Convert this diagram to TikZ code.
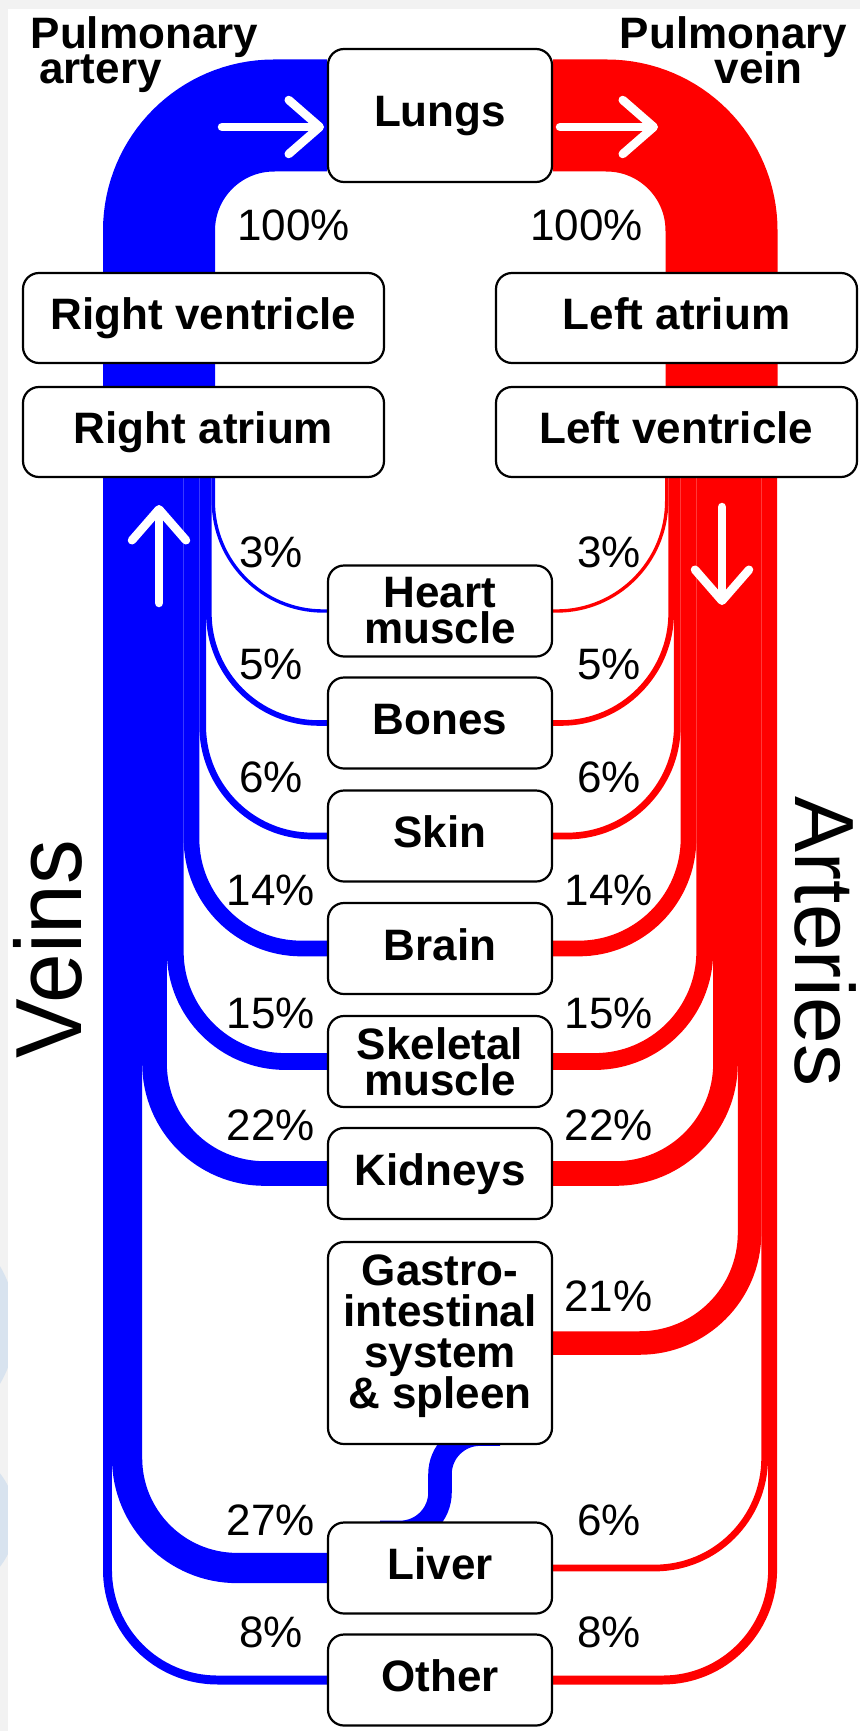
\documentclass[tikz,border=0pt]{standalone}
\usepackage{fontspec}
\setmainfont{Liberation Sans}
\newfontfamily\bigfont[FakeStretch=0.95]{Liberation Sans}
\usetikzlibrary{arrows.meta,backgrounds}
\definecolor{veinblue}{RGB}{0,0,255}
\definecolor{arteryred}{RGB}{255,0,0}
\definecolor{pagegray}{RGB}{242,242,242}
\definecolor{smudge}{RGB}{216,227,239}
\lineskiplimit=-30pt
\begin{document}
\begin{tikzpicture}[x=1pt,y=-1pt,
    organ/.style={draw,line width=2.2pt,rounded corners=16pt,fill=white,minimum width=224pt,minimum height=91pt,
      inner sep=0pt,align=center,font=\bfseries\fontsize{44}{36}\selectfont},
    oneline/.style={text height=32pt,text depth=9pt},
    pct/.style={anchor=base,font=\fontsize{44}{44}\selectfont},
    vein/.style={veinblue,rounded corners=110pt},
    artery/.style={arteryred,rounded corners=110pt},
    flow/.style={white,line width=8.5pt,line cap=round,-{Straight Barb[length=31pt,width=54pt,round]}}]
  \useasboundingbox (0,0) rectangle (860,1731);

  \node[organ,oneline,minimum height=133pt] (lungs) at (440,115.5) {Lungs};
  \node[organ,oneline,minimum width=361pt,minimum height=90pt] (rv) at (203.5,318) {Right ventricle};
  \node[organ,oneline,minimum width=361pt,minimum height=90pt] (ra) at (203.5,432) {Right atrium};
  \node[organ,oneline,minimum width=361pt,minimum height=90pt] (la) at (676.5,318) {Left atrium};
  \node[organ,oneline,minimum width=361pt,minimum height=90pt] (lv) at (676.5,432) {Left ventricle};
  \node[organ] (heart) at (440,611) {Heart\\muscle};
  \node[organ,oneline] (bones) at (440,723) {Bones};
  \node[organ,oneline] (skin) at (440,836) {Skin};
  \node[organ,oneline] (brain) at (440,948.5) {Brain};
  \node[organ] (skeletal) at (440,1061.5) {Skeletal\\muscle};
  \node[organ,oneline] (kidneys) at (440,1173.5) {Kidneys};
  \node[organ,minimum height=202pt,font=\bfseries\fontsize{44}{41}\selectfont] (gi) at (440,1343)
    {Gastro-\\intestinal\\system\\\& spleen\rule[-23pt]{0pt}{0pt}};
  \node[organ,oneline] (liver) at (440,1568) {Liver};
  \node[organ,oneline] (other) at (440,1680) {Other};

  \begin{scope}[on background layer]
    \fill[pagegray] (0,0) rectangle (860,1731);
    \begin{scope}
      \clip (0,0) rectangle (8,1731);
      \fill[smudge] (-100,1325) circle[radius=116];
      \fill[smudge] (-60,1520) circle[radius=76];
    \end{scope}
    \fill[white] (8,9) rectangle (860,1731);

    \draw[vein,line width=112pt,rounded corners=115pt] (159,440) |- (lungs.west);
    \draw[artery,line width=112pt,rounded corners=115pt] (721.5,440) |- (lungs.east);

    \draw[vein,line width=3.36pt] (213.32,440) |- (heart.west);
    \draw[vein,line width=5.6pt] (208.84,440) |- (bones.west);
    \draw[vein,line width=6.72pt] (202.68,440) |- (skin.west);
    \draw[vein,line width=15.68pt] (191.48,440) |- (brain.west);
    \draw[vein,line width=16.8pt] (175.24,440) |- (skeletal.west);
    \draw[vein,line width=24.64pt] (154.52,440) |- (kidneys.west);
    \draw[vein,line width=30.24pt] (127.08,440) |- (liver.west);
    \draw[vein,line width=8.96pt] (107.48,440) |- (other.west);
    \draw[vein,line width=23.52pt,rounded corners=40pt] ([xshift=60pt,yshift=11pt]gi.south) -- ([yshift=11pt]gi.south)
      -- ([yshift=-11pt]liver.north) -- ([xshift=-60pt,yshift=-11pt]liver.north);

    \draw[artery,line width=3.36pt] (666.68,440) |- (heart.east);
    \draw[artery,line width=5.6pt] (671.16,440) |- (bones.east);
    \draw[artery,line width=6.72pt] (677.32,440) |- (skin.east);
    \draw[artery,line width=15.68pt] (688.52,440) |- (brain.east);
    \draw[artery,line width=16.8pt] (704.76,440) |- (skeletal.east);
    \draw[artery,line width=24.64pt] (725.48,440) |- (kidneys.east);
    \draw[artery,line width=23.52pt] (749.56,440) |- (gi.east);
    \draw[artery,line width=6.72pt] (764.68,440) |- (liver.east);
    \draw[artery,line width=8.96pt] (772.6,440) |- (other.east);
  \end{scope}

  \draw[flow] (222,127) -- (324,127);
  \draw[flow] (560,127) -- (658,127);
  \draw[flow] (159,603) -- (159,505);
  \draw[flow] (722,507) -- (722,605);

  \node[anchor=north west,inner sep=0pt,align=left,font=\bfseries\fontsize{44}{34.5}\selectfont] (partery) at (30.5,16.5)
    {Pulmonary\\\hspace*{8.7pt}artery};
  \node[anchor=north east,inner sep=0pt,align=right,font=\bfseries\fontsize{44}{34.5}\selectfont] (pvein) at (847.5,16.5)
    {Pulmonary\\vein\hspace*{44.5pt}};
  \node[rotate=90,font=\bigfont\fontsize{94}{94}\selectfont] (veins) at (47.5,949) {Veins};
  \node[rotate=-90,font=\fontsize{84}{84}\selectfont] (arteries) at (825.5,941.5) {Arteries};

  \node[pct] (pl100) at (293.5,240) {100\%};
  \node[pct] (pr100) at (586.5,240) {100\%};
  \node[pct] (plheart) at (271,567) {3\%};
  \node[pct] (prheart) at (609,567) {3\%};
  \node[pct] (plbones) at (271,679) {5\%};
  \node[pct] (prbones) at (609,679) {5\%};
  \node[pct] (plskin) at (271,792) {6\%};
  \node[pct] (prskin) at (609,792) {6\%};
  \node[pct] (plbrain) at (271,905) {14\%};
  \node[pct] (prbrain) at (609,905) {14\%};
  \node[pct] (plskeletal) at (271,1028) {15\%};
  \node[pct] (prskeletal) at (609,1028) {15\%};
  \node[pct] (plkidneys) at (271,1140) {22\%};
  \node[pct] (prkidneys) at (609,1140) {22\%};
  \node[pct] (prgi) at (608.5,1311) {21\%};
  \node[pct] (plliver) at (271,1535) {27\%};
  \node[pct] (prliver) at (609,1535) {6\%};
  \node[pct] (plother) at (271,1647) {8\%};
  \node[pct] (prother) at (609,1647) {8\%};
\end{tikzpicture}
\end{document}
